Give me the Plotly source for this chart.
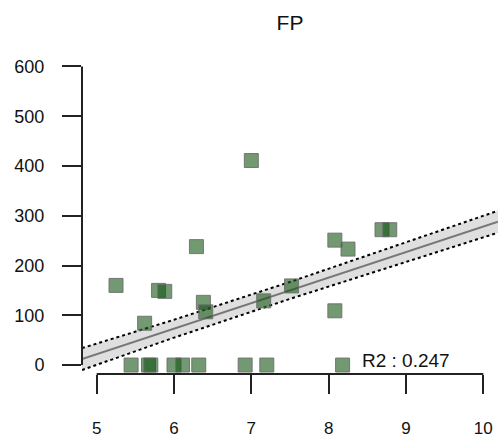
import plotly.graph_objects as go

# scatter data (x, y)
pts_x = [5.25, 5.62, 5.80, 5.88, 6.29, 6.38, 6.41, 7.00, 7.16, 7.52, 8.08, 8.25, 8.08, 8.69, 8.79,
         5.445, 5.67, 5.70, 6.00, 6.11, 6.32, 6.92, 7.20, 8.18]
pts_y = [160, 84, 150, 148, 238, 126, 107, 411, 129, 159, 251, 233, 109, 272, 272,
         0, 0, 0, 0, 0, 0, 0, 0, 0]

# fitted line and confidence band
band_x = [4.81, 6.0, 7.5, 9.0, 10.19]
fit_y = [12, 73, 150, 227, 288]
band_upper = [34, 91, 167, 246, 310]
band_lower = [-10, 55, 133, 208, 266]

x_ticks = [5, 6, 7, 8, 9, 10]
y_ticks = [0, 100, 200, 300, 400, 500, 600]
title_text = "FP"
r2_text = "R2 : 0.247"
r2_pos = (8.41, 10)

FAM = "Liberation Sans, Arial, sans-serif"

fig = go.Figure()
fig.add_trace(go.Scatter(x=band_x, y=band_lower, mode="lines",
                         line=dict(color="black", width=2, dash="dot"),
                         showlegend=False, hoverinfo="skip"))
fig.add_trace(go.Scatter(x=band_x, y=band_upper, mode="lines", fill="tonexty",
                         fillcolor="rgba(215,215,215,0.8)",
                         line=dict(color="black", width=2, dash="dot"),
                         showlegend=False, hoverinfo="skip"))
fig.add_trace(go.Scatter(x=band_x, y=fit_y, mode="lines",
                         line=dict(color="#777777", width=2),
                         showlegend=False, hoverinfo="skip"))
fig.add_trace(go.Scatter(x=pts_x, y=pts_y, mode="markers",
                         marker=dict(symbol="square", size=14,
                                     color="rgba(20,85,20,0.6)",
                                     line=dict(color="rgba(110,110,110,0.9)", width=1)),
                         showlegend=False))

fig.add_annotation(x=r2_pos[0], y=r2_pos[1], text=r2_text, showarrow=False,
                   xanchor="left", yanchor="middle",
                   font=dict(family=FAM, size=19, color="#111"))

# R-style axis lines spanning only the tick range
fig.add_shape(type="line", xref="paper", yref="y", x0=0, x1=0,
              y0=y_ticks[0], y1=y_ticks[-1], line=dict(color="#222", width=2))
fig.add_shape(type="line", xref="x", yref="paper", x0=x_ticks[0], x1=x_ticks[-1],
              y0=0, y1=0, line=dict(color="#222", width=2))

yfont = dict(family=FAM, size=18, color="#111")
xfont = dict(family=FAM, size=17, color="#111")
fig.update_layout(
    width=498, height=441,
    margin=dict(l=82, r=0, t=59, b=67, autoexpand=False),
    plot_bgcolor="white", paper_bgcolor="white",
    title=dict(text=title_text, x=0.5, xref="paper", y=1 - 23 / 441, yanchor="middle",
               font=dict(family=FAM, size=21, color="#111")),
    xaxis=dict(range=[4.81, 10.19], tickvals=x_ticks, ticks="outside", ticklen=19,
               tickwidth=2, tickcolor="#222", showline=False, showgrid=False,
               zeroline=False, tickfont=xfont, ticklabelstandoff=20, automargin=False),
    yaxis=dict(range=[-18, 615], tickvals=y_ticks, ticks="outside", ticklen=19,
               tickwidth=2, tickcolor="#222", showline=False, showgrid=False,
               zeroline=False, tickfont=yfont, ticklabelstandoff=14, automargin=False),
)
fig.write_html("out.html")
